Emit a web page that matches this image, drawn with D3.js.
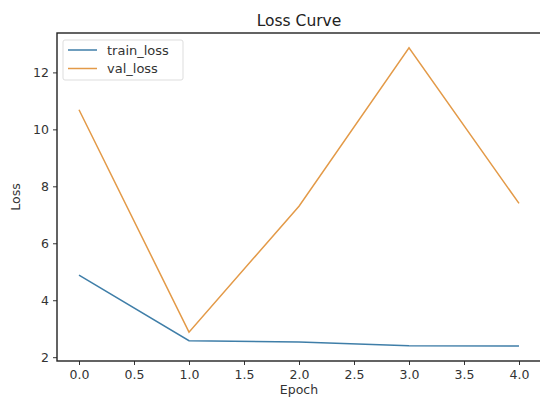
<!DOCTYPE html>
<html>
<head>
<meta charset="utf-8">
<script src="https://cdn.jsdelivr.net/npm/d3@7"></script>
<style>
  body { margin: 0; background: #fff; }
  svg { font-family: "DejaVu Sans", sans-serif; }
</style>
</head>
<body>
<script>
const epochs = [0, 1, 2, 3, 4];
const trainLoss = [4.88, 2.58, 2.53, 2.40, 2.39];
const valLoss = [10.69, 2.88, 7.3, 12.86, 7.40];
const xTicks = [0, 0.5, 1, 1.5, 2, 2.5, 3, 3.5, 4];
const yTicks = [2, 4, 6, 8, 10, 12];

const W = 540, H = 399;
const margin = { top: 33, right: -1, bottom: 38, left: 57 };
const width = W - margin.left - margin.right;
const height = H - margin.top - margin.bottom;

const svg = d3.select('body').append('svg')
  .attr('width', W).attr('height', H);

const g = svg.append('g')
  .attr('transform', `translate(${margin.left},${margin.top})`);

// matplotlib-like 5% padding
const xPad = (d3.max(epochs) - d3.min(epochs)) * 0.05;
const allY = trainLoss.concat(valLoss);
const yPad = (d3.max(allY) - d3.min(allY)) * 0.05;

const x = d3.scaleLinear()
  .domain([d3.min(epochs) - xPad, d3.max(epochs) + xPad])
  .range([0, width]);
const y = d3.scaleLinear()
  .domain([d3.min(allY) - yPad, d3.max(allY) + yPad])
  .range([height, 0]);

const line = d3.line()
  .x(d => x(d[0]))
  .y(d => y(d[1]));

const series = [
  { name: 'train_loss', values: trainLoss, color: '#3f7ea8' },
  { name: 'val_loss', values: valLoss, color: '#e39a48' }
];

series.forEach(s => {
  g.append('path')
    .datum(epochs.map((e, i) => [e, s.values[i]]))
    .attr('fill', 'none')
    .attr('stroke', s.color)
    .attr('stroke-width', 1.5)
    .attr('d', line);
});

// axes
const xAxis = g.append('g')
  .attr('transform', `translate(0,${height})`)
  .call(d3.axisBottom(x).tickValues(xTicks).tickFormat(d3.format('.1f')).tickSize(4).tickPadding(5));
const yAxis = g.append('g')
  .call(d3.axisLeft(y).tickValues(yTicks).tickFormat(d3.format('d')).tickSize(4).tickPadding(4));

[xAxis, yAxis].forEach(a => {
  a.selectAll('text').attr('font-size', 12.5).attr('fill', '#333').attr('font-family', '"DejaVu Sans", sans-serif');
  a.selectAll('line').attr('stroke', '#333');
  a.select('.domain').remove();
});

// spines
g.append('rect')
  .attr('x', 0).attr('y', 0)
  .attr('width', width).attr('height', height)
  .attr('fill', 'none')
  .attr('stroke', '#222')
  .attr('stroke-width', 1.4);

// title and labels
svg.append('text')
  .attr('x', margin.left + width / 2)
  .attr('y', 26)
  .attr('text-anchor', 'middle')
  .attr('font-size', 15.5)
  .attr('fill', '#222')
  .text('Loss Curve');

svg.append('text')
  .attr('x', margin.left + width / 2)
  .attr('y', 394)
  .attr('text-anchor', 'middle')
  .attr('font-size', 12.5)
  .attr('fill', '#333')
  .text('Epoch');

svg.append('text')
  .attr('transform', `translate(20,${margin.top + height / 2}) rotate(-90)`)
  .attr('text-anchor', 'middle')
  .attr('font-size', 12.5)
  .attr('fill', '#333')
  .text('Loss');

// legend
const legend = g.append('g').attr('transform', 'translate(6,7)');
legend.append('rect')
  .attr('width', 120).attr('height', 40)
  .attr('rx', 2)
  .attr('fill', '#fff')
  .attr('fill-opacity', 0.8)
  .attr('stroke', '#ddd');
series.forEach((s, i) => {
  const ly = 10 + i * 18.5;
  legend.append('line')
    .attr('x1', 5).attr('x2', 34)
    .attr('y1', ly).attr('y2', ly)
    .attr('stroke', s.color)
    .attr('stroke-width', 1.5);
  legend.append('text')
    .attr('x', 44).attr('y', ly + 4.5)
    .attr('font-size', 13)
    .attr('fill', '#333')
    .text(s.name);
});
</script>
</body>
</html>
